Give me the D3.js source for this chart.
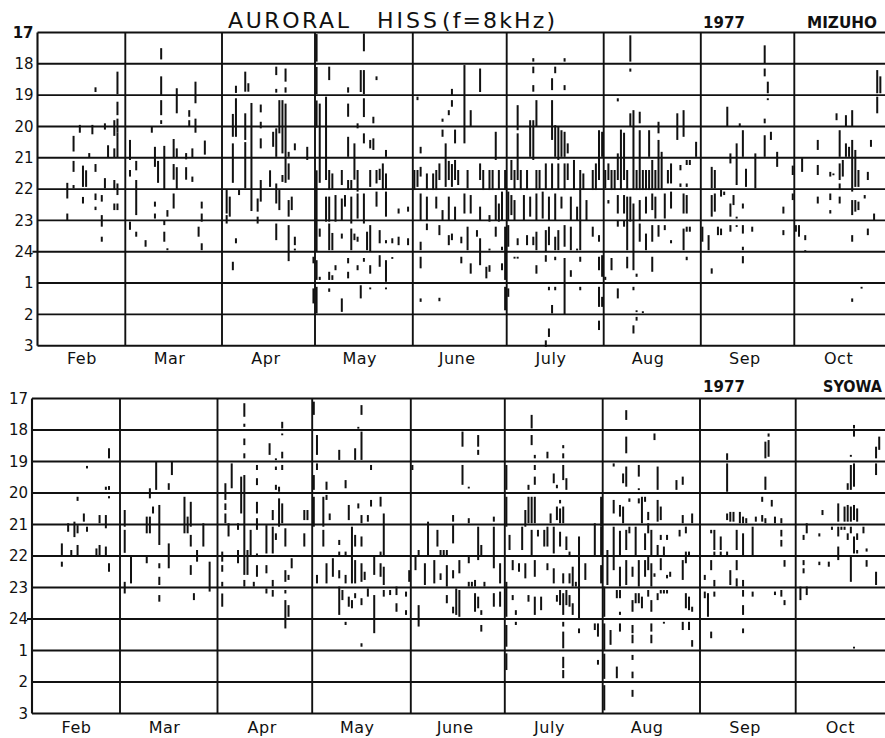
<!DOCTYPE html>
<html>
<head>
<meta charset="utf-8">
<script src="https://cdn.jsdelivr.net/npm/d3@7"></script>
<style>
  html, body { margin: 0; padding: 0; background: #fff; }
  svg { display: block; }
  text { font-family: "DejaVu Sans", "Liberation Sans", sans-serif; fill: #111; }
</style>
</head>
<body>
<svg id="chart" width="885" height="738"></svg>
<script>
// Month labels and hour ticks (hours after midnight continue as 25, 26, 27)
const months = ["Feb", "Mar", "Apr", "May", "June", "July", "Aug", "Sep", "Oct"];
const hourTicks = [17, 18, 19, 20, 21, 22, 23, 24, 25, 26, 27];
const hourLabels = ["17", "18", "19", "20", "21", "22", "23", "24", "1", "2", "3"];

// Hiss occurrence intervals: [day of month, start hour, end hour]
// ---- MIZUHO ----
const mizuhoFeb = [[10,21.8,22.3],[10,22.78,22.99],[12,20.3,20.8],[12,21.1,21.45],[12,21.87,21.98],[14,19.95,20.2],[15,21.25,21.93],[15,22.25,22.46],[16,21.4,21.93],[17,20.85,21.0],[18,19.95,20.25],[19,18.75,18.9],[19,21.2,21.45],[19,22.14,22.35],[19,22.56,22.67],[21,22.19,22.4],[21,22.83,23.2],[21,23.52,23.68],[22,19.9,20.1],[22,21.65,21.98],[23,20.6,21.0],[25,19.8,20.3],[25,20.7,21.0],[25,21.71,22.03],[25,22.46,22.67],[26,18.25,18.97],[26,19.21,19.64],[26,19.75,20.2],[26,20.2,21.0],[26,21.82,22.19],[26,22.46,22.67]];
const mizuhoMar = [[2,20.43,21.07],[2,21.39,21.6],[2,23.04,23.3],[4,21.1,21.4],[4,21.71,22.83],[4,23.36,23.52],[7,23.63,23.84],[9,20.0,20.2],[10,20.65,21.29],[10,22.4,22.56],[10,22.78,22.94],[11,21.1,21.8],[12,17.5,17.86],[12,18.4,19.0],[12,19.16,19.64],[12,19.8,19.92],[13,20.62,22.0],[13,22.99,23.15],[13,23.36,23.68],[14,22.67,22.88],[14,23.89,23.95],[16,20.4,21.0],[16,21.2,21.7],[16,22.14,22.62],[17,18.78,19.58],[17,20.7,21.0],[17,21.3,22.0],[20,20.85,21.05],[20,21.3,21.7],[21,19.48,19.69],[21,19.8,20.0],[22,20.7,21.0],[22,21.6,21.77],[23,18.57,19.26],[23,19.75,20.2],[24,23.2,23.52],[25,22.4,22.62],[25,22.78,23.04],[25,23.73,23.95],[26,20.45,20.9]];
const mizuhoApr = [[2,22.03,22.78],[2,22.83,23.1],[3,22.24,22.88],[4,19.6,20.33],[4,20.54,21.8],[4,24.32,24.59],[5,18.7,18.93],[5,19.1,20.33],[5,23.57,23.73],[6,22.03,22.19],[8,18.25,18.89],[8,19.58,20.43],[8,20.5,21.98],[9,18.62,18.89],[10,19.25,22.7],[12,22.3,22.72],[12,22.88,23.1],[13,19.3,19.55],[13,19.85,20.06],[13,20.38,20.7],[13,21.71,22.4],[16,21.4,21.93],[17,20.17,20.65],[18,18.09,18.36],[18,18.8,18.92],[18,20.06,20.97],[18,21.82,22.46],[18,23.1,23.63],[19,19.16,20.22],[19,22.03,22.67],[20,19.16,20.86],[20,21.55,21.77],[21,18.15,18.57],[21,18.75,18.92],[21,19.27,21.8],[22,20.81,20.97],[22,21.18,21.7],[22,22.35,22.88],[22,23.15,24.3],[23,22.24,22.67],[24,20.54,20.76],[24,23.52,23.79],[24,23.9,23.95],[28,20.65,21.07],[30,24.16,24.37],[30,25.17,25.65]];
const mizuhoMay = [[1,17.05,17.93],[1,18.1,18.97],[1,19.17,20.04],[1,21.4,24.0],[1,24.27,24.9],[1,25.12,25.97],[2,19.27,21.8],[2,23.26,23.52],[2,24.8,24.9],[4,19.05,21.71],[4,22.24,23.04],[5,18.09,18.52],[5,21.39,22.03],[5,22.24,23.04],[5,23.1,23.95],[5,24.64,24.9],[5,25.17,25.28],[6,21.5,22.0],[6,23.4,23.95],[6,24.75,24.9],[7,22.19,23.04],[7,24.43,24.59],[9,21.39,21.87],[9,22.3,22.99],[9,23.42,23.58],[9,25.49,25.92],[10,22.19,22.56],[11,18.75,18.92],[11,19.27,19.69],[11,20.33,20.97],[11,21.71,22.03],[11,24.2,24.37],[11,24.64,24.85],[12,21.71,22.0],[12,22.24,23.1],[12,23.26,23.95],[13,20.54,21.7],[13,23.42,23.63],[14,19.9,20.06],[14,21.39,22.08],[14,22.14,22.94],[14,23.52,23.68],[14,24.43,24.59],[15,18.2,18.9],[15,25.07,25.49],[16,17.03,17.6],[16,18.2,18.97],[16,19.1,19.7],[16,20.22,20.54],[16,22.14,23.1],[16,24.2,24.32],[17,23.36,23.95],[18,20.43,20.7],[18,21.39,21.93],[18,23.15,24.0],[18,24.43,24.7],[18,25.14,25.2],[19,19.69,19.9],[19,20.38,20.75],[20,18.4,18.52],[20,21.39,21.82],[20,22.08,22.56],[21,21.35,21.71],[21,23.31,23.73],[21,24.11,24.48],[22,21.18,22.03],[23,20.75,20.97],[23,21.5,22.0],[23,22.08,22.88],[23,23.63,23.73],[23,24.27,24.96],[23,25.14,25.2],[25,23.57,23.73],[25,24.17,24.22],[27,22.62,22.78],[27,23.52,23.79],[30,22.56,22.72],[30,23.57,23.79]];
const mizuhoJun = [[1,21.39,22.03],[2,19.05,19.16],[2,21.39,21.93],[3,20.65,20.86],[3,21.29,21.6],[3,22.14,22.99],[3,23.68,23.95],[3,24.16,24.53],[3,25.49,25.6],[5,21.5,22.03],[5,22.24,22.99],[5,23.1,23.31],[7,21.5,22.03],[8,21.39,22.03],[8,22.24,22.62],[9,21.18,21.71],[9,23.15,23.47],[9,25.47,25.58],[10,19.75,19.85],[10,20.1,20.33],[10,22.67,22.99],[11,20.54,21.07],[11,21.07,21.93],[12,19.48,19.64],[12,21.1,21.71],[12,22.24,22.99],[12,23.47,23.79],[13,18.8,19.0],[13,19.16,19.37],[13,21.2,21.93],[13,23.42,23.63],[14,20.1,20.54],[14,21.07,21.71],[14,22.56,22.99],[15,21.39,21.87],[16,23.52,23.73],[16,24.16,24.37],[17,18.04,20.54],[17,22.14,22.78],[18,21.39,21.98],[18,23.2,23.95],[19,19.48,20.01],[19,22.19,22.78],[19,24.37,24.7],[21,23.31,23.52],[22,18.15,18.9],[22,21.18,21.71],[22,22.56,22.99],[22,23.57,24.43],[23,21.39,22.03],[24,24.48,24.85],[25,21.39,22.03],[25,22.83,23.04],[25,23.9,23.95],[25,24.43,24.64],[26,21.39,22.03],[27,20.17,21.07],[27,22.19,22.99],[27,23.2,23.52],[28,21.39,22.03],[28,22.46,23.04],[29,22.08,22.99],[29,23.84,23.95],[29,24.37,24.59],[30,21.39,22.03],[30,23.2,24.9],[30,25.12,25.87]];
const mizuhoJul = [[1,22.08,22.99],[1,23.15,23.84],[1,25.17,25.44],[2,21.07,21.71],[2,22.19,22.83],[3,21.39,22.03],[3,22.35,22.99],[3,24.16,24.22],[4,19.32,20.12],[4,20.22,21.71],[4,23.57,23.79],[4,24.16,24.22],[5,21.39,22.03],[6,22.19,22.99],[7,21.39,22.03],[7,23.47,23.79],[8,19.8,20.97],[8,22.24,22.88],[9,17.82,17.93],[9,18.09,18.3],[9,18.68,18.89],[9,19.8,21.07],[9,23.52,23.79],[10,19.16,20.01],[10,21.39,22.03],[10,22.14,22.99],[10,23.36,23.95],[10,24.43,24.7],[11,21.39,22.03],[12,22.08,22.94],[13,21.18,22.03],[13,23.31,24.0],[13,24.11,24.32],[13,26.83,27.04],[14,22.24,22.99],[14,23.2,23.79],[14,25.12,25.23],[14,26.45,26.72],[15,18.46,18.84],[15,19.16,20.43],[15,21.18,22.03],[15,25.7,25.97],[16,18.09,18.3],[16,19.96,20.97],[16,22.14,22.99],[16,23.52,23.95],[16,24.16,24.27],[16,25.12,25.23],[17,20.01,21.07],[17,21.18,22.03],[17,23.31,23.95],[18,20.12,20.97],[18,22.24,22.62],[19,17.82,17.93],[19,18.68,18.84],[19,20.17,20.97],[19,21.18,22.03],[19,23.15,23.84],[19,24.2,26.0],[20,20.54,20.86],[20,21.18,21.71],[21,22.24,22.99],[21,23.2,23.95],[21,24.59,24.8],[22,21.07,22.03],[23,22.56,22.99],[23,23.9,23.95],[24,21.39,23.95],[24,24.16,24.32],[24,25.12,25.23],[25,21.5,22.03],[26,22.35,22.99],[28,21.39,22.03],[28,23.2,23.52],[29,21.18,22.03],[30,20.12,21.71],[30,23.47,23.68],[30,24.16,24.59],[30,25.12,25.76],[30,26.2,26.5],[31,20.17,20.97],[31,24.11,24.8],[31,25.44,25.76]];
const mizuhoAug = [[1,21.39,21.98],[1,24.8,24.9],[2,21.18,21.71],[2,22.35,22.46],[3,21.39,22.03],[3,24.2,24.59],[4,21.39,22.03],[5,19.1,19.2],[5,20.86,21.71],[5,22.19,22.78],[5,22.99,23.2],[5,25.17,25.49],[6,20.1,22.03],[7,20.2,21.71],[7,22.19,22.78],[7,22.99,23.2],[8,21.39,22.03],[8,22.24,23.95],[8,24.16,24.53],[9,17.09,17.93],[9,18.15,18.25],[9,19.58,20.0],[9,22.24,23.04],[10,19.48,22.03],[10,22.46,24.59],[10,25.12,25.23],[10,26.35,26.61],[11,21.39,22.03],[11,24.7,24.8],[11,25.87,25.92],[11,26.08,26.2],[12,19.53,19.9],[12,20.12,22.03],[12,22.35,22.99],[12,23.1,23.68],[13,21.39,22.03],[13,25.9,25.95],[14,21.39,22.03],[14,22.24,22.78],[14,23.42,23.95],[15,20.12,20.97],[15,21.39,22.03],[16,21.07,22.03],[16,22.14,22.67],[16,23.15,23.68],[16,24.16,24.64],[17,21.39,22.03],[17,22.24,22.94],[18,19.85,20.22],[18,20.43,22.03],[18,23.15,23.52],[19,20.81,22.03],[20,22.14,22.94],[20,23.15,23.31],[21,21.39,21.82],[22,21.18,21.82],[22,22.08,22.62],[22,23.63,23.73],[24,19.58,20.43],[25,21.23,21.4],[25,21.82,21.93],[26,19.48,20.33],[26,22.14,22.78],[26,23.26,23.95],[27,21.07,21.23],[27,21.82,21.93],[27,22.19,22.78],[27,23.2,23.36],[27,24.16,24.27],[28,21.07,21.23],[28,23.2,23.36],[30,20.49,20.97]];
const mizuhoSep = [[1,23.2,23.68],[3,23.47,23.95],[4,21.29,21.98],[4,22.19,22.88],[4,24.53,24.7],[5,21.39,21.98],[5,22.14,22.72],[6,23.2,23.47],[7,22.03,22.24],[7,23.26,23.47],[8,22.08,22.19],[9,19.37,20.01],[10,20.86,21.18],[10,22.46,22.88],[10,23.15,23.36],[11,22.19,22.51],[12,20.54,21.87],[12,22.88,22.94],[12,23.15,23.2],[13,19.9,20.01],[14,20.12,20.97],[14,22.46,22.62],[14,23.15,23.42],[14,23.84,23.95],[14,24.14,24.37],[15,21.35,21.93],[17,23.2,23.36],[18,20.86,21.98],[21,17.41,17.99],[21,18.15,18.4],[21,19.75,19.9],[21,20.28,20.97],[22,18.57,18.94],[22,19.1,19.16],[23,20.17,20.43],[25,20.81,21.29],[27,22.56,22.78],[27,23.31,23.47],[30,21.25,21.55],[30,22.14,22.35]];
const mizuhoOct = [[1,23.15,23.36],[2,23.15,23.52],[3,21.01,21.45],[4,23.47,23.63],[4,23.95,24.0],[8,20.43,20.75],[8,21.23,21.55],[8,22.24,22.46],[12,21.45,21.6],[12,22.14,22.35],[12,22.67,22.78],[13,21.5,21.55],[14,19.58,19.8],[15,20.12,20.97],[15,21.18,21.71],[15,21.82,22.03],[15,22.24,22.46],[16,21.07,21.6],[17,19.64,20.01],[17,20.54,20.97],[18,20.65,20.97],[19,19.48,20.01],[19,20.43,22.08],[19,22.35,22.83],[19,23.47,23.68],[19,25.49,25.6],[20,20.75,21.93],[20,22.35,22.72],[21,21.39,21.93],[21,22.4,22.67],[22,25.12,25.17],[23,22.19,22.3],[24,21.45,21.71],[24,23.26,23.47],[25,20.43,20.65],[26,22.78,22.99],[27,18.2,18.94],[27,19.05,19.58],[28,18.4,18.94]];

// ---- SYOWA ----
const syowaFeb = [[10,21.6,22.02],[10,22.18,22.34],[12,20.96,21.23],[13,21.81,21.97],[14,20.91,21.4],[15,20.12,20.25],[15,21.02,21.28],[15,21.65,22.02],[17,20.65,20.91],[18,19.14,19.22],[18,21.07,21.23],[21,21.76,22.02],[22,20.7,20.96],[22,21.65,21.97],[24,19.8,19.9],[24,20.7,21.12],[24,21.7,22.02],[25,18.58,18.9],[25,19.78,19.9],[25,20.1,20.17],[25,22.23,22.5]];
const syowaMar = [[2,20.54,21.07],[2,21.17,21.9],[2,22.82,23.19],[4,22.02,22.87],[9,20.75,21.28],[9,21.97,22.23],[10,19.85,20.17],[10,20.75,21.28],[11,20.43,20.65],[12,19.0,19.9],[13,20.38,21.65],[13,22.23,22.39],[13,22.66,22.92],[13,23.24,23.45],[16,19.69,19.9],[16,21.6,22.39],[17,19.0,19.43],[21,20.12,21.28],[22,20.75,21.28],[23,20.28,21.07],[23,21.33,21.7],[23,22.29,22.6],[24,23.18,23.4],[25,21.81,22.18],[27,20.96,21.7],[29,22.18,23.13]];
const syowaApr = [[2,21.86,22.18],[2,22.29,22.5],[2,22.82,22.97],[2,23.19,23.61],[3,19.69,20.22],[3,20.33,20.54],[3,20.65,20.96],[4,20.96,21.38],[5,19.06,19.85],[7,20.96,21.17],[7,21.81,22.23],[8,19.48,20.65],[9,17.15,17.58],[9,17.8,17.9],[9,18.27,18.48],[9,18.74,18.9],[9,19.43,22.6],[9,22.76,22.97],[10,21.81,22.6],[11,21.17,22.02],[12,22.82,22.97],[13,19.11,19.27],[13,19.53,19.75],[13,20.28,20.65],[13,20.8,21.17],[13,21.92,22.02],[13,22.29,22.66],[16,21.02,21.92],[16,22.29,22.55],[16,23.03,23.19],[17,18.42,18.79],[18,20.54,20.86],[18,21.07,21.92],[18,22.76,22.97],[18,23.08,23.29],[19,18.9,18.95],[19,19.16,19.27],[19,19.74,19.9],[19,21.28,21.49],[20,19.8,19.96],[20,20.17,21.07],[21,17.74,17.95],[21,18.11,18.16],[21,18.69,18.9],[21,19.11,19.27],[21,20.33,20.96],[22,21.12,21.7],[22,22.45,22.82],[22,23.08,23.19],[22,23.4,24.3],[23,22.6,22.76],[23,23.56,23.93],[24,22.07,22.39],[28,20.54,20.86],[28,21.28,21.7],[29,20.54,20.86]];
const syowaMay = [[1,17.1,17.52],[1,19.43,19.9],[1,20.12,21.07],[2,18.16,18.79],[2,19.06,19.27],[2,22.6,22.87],[4,20.12,21.07],[4,21.17,21.7],[5,19.64,19.9],[5,20.06,20.22],[5,22.23,22.87],[6,20.65,20.86],[7,22.07,22.66],[9,18.63,18.95],[9,21.49,21.65],[9,21.86,22.02],[9,22.45,22.71],[9,22.97,23.87],[10,23.08,23.4],[11,19.59,19.85],[11,21.86,22.02],[11,22.6,22.87],[11,24.09,24.19],[12,20.38,20.86],[12,23.29,23.61],[13,21.07,22.87],[13,23.4,23.66],[14,18.58,18.95],[14,21.33,21.7],[14,22.13,22.87],[14,23.18,23.34],[15,17.9,17.95],[15,20.33,20.49],[16,17.21,17.52],[16,18.05,18.95],[16,20.7,20.96],[16,21.38,21.7],[16,22.23,22.82],[16,23.34,23.56],[16,24.77,24.88],[17,22.5,22.76],[18,20.7,20.91],[18,23.03,23.29],[19,19.11,19.27],[19,20.22,20.43],[20,22.02,22.6],[20,23.24,24.45],[22,20.12,20.43],[22,21.86,22.02],[22,22.23,22.66],[23,20.65,22.02],[23,22.34,22.92],[23,23.08,23.29],[25,23.08,23.24],[27,22.97,23.24],[27,23.5,23.77],[30,23.13,23.29],[30,23.72,23.87],[31,22.45,22.82]];
const syowaJun = [[1,19.11,19.27],[2,22.02,22.45],[3,21.81,22.02],[3,23.56,24.24],[5,22.23,22.92],[6,20.91,22.02],[8,22.13,22.87],[9,21.17,21.7],[10,21.81,22.02],[10,22.55,22.76],[11,21.81,22.02],[12,21.81,22.02],[12,22.29,22.97],[12,23.24,23.5],[14,20.7,20.91],[14,21.02,21.6],[14,22.45,22.71],[14,23.61,23.82],[15,23.03,23.87],[16,22.13,22.55],[16,23.08,23.93],[17,18.05,18.53],[17,19.11,19.74],[19,19.8,19.85],[19,20.8,20.96],[19,21.97,22.23],[19,22.82,22.97],[20,22.82,22.97],[21,22.76,22.97],[21,23.18,23.77],[22,18.16,18.53],[22,18.63,18.79],[22,21.07,22.13],[22,23.29,23.66],[23,21.65,22.02],[23,23.72,23.87],[23,24.19,24.4],[24,22.82,22.97],[27,20.75,20.91],[27,21.07,22.39],[27,23.18,23.61],[29,22.23,22.87],[29,23.13,23.61]];
const syowaJul = [[1,19.11,19.9],[1,20.12,21.07],[1,22.82,23.93],[1,24.19,24.88],[1,25.09,25.62],[2,21.33,21.81],[3,22.13,22.45],[3,23.24,23.4],[4,23.72,23.87],[4,24.09,24.19],[5,22.23,22.5],[6,21.07,21.81],[7,20.54,21.07],[7,22.23,22.71],[8,19.74,19.9],[8,20.12,20.96],[8,23.24,23.45],[9,17.52,17.95],[9,18.16,18.48],[9,20.12,20.96],[9,21.17,22.02],[10,18.79,18.9],[10,19.11,19.27],[10,19.48,19.74],[10,20.12,20.96],[10,22.13,22.66],[10,23.29,23.87],[11,21.17,21.38],[12,23.29,23.72],[13,21.17,21.7],[14,18.69,18.9],[14,21.07,21.7],[14,22.23,22.45],[15,20.65,20.96],[16,19.38,19.69],[16,21.07,21.92],[16,22.39,22.87],[17,19.74,19.85],[17,20.43,20.86],[17,23.24,23.45],[18,20.22,20.33],[18,20.49,20.96],[18,21.23,21.7],[18,23.08,23.56],[19,18.48,18.58],[19,18.74,18.9],[19,19.11,19.59],[19,20.43,20.96],[19,22.55,22.87],[19,23.18,23.87],[19,24.09,24.24],[19,24.4,24.93],[19,25.2,25.56],[19,25.62,25.88],[20,19.53,19.9],[20,21.38,21.81],[20,23.08,23.56],[21,21.86,22.02],[21,22.55,22.87],[21,23.24,23.61],[22,22.34,22.97],[22,23.5,23.87],[23,22.82,22.97],[24,21.38,24.03],[24,24.3,24.45],[26,22.23,22.76],[29,20.96,22.02],[29,24.14,24.35],[30,24.14,24.56],[30,25.3,25.45],[31,20.12,21.07],[31,21.07,22.02],[31,22.29,22.87]];
const syowaAug = [[1,22.97,23.93],[1,24.14,24.98],[1,25.1,25.9],[1,26.1,26.9],[2,21.81,22.92],[3,24.35,24.82],[4,19.06,19.16],[4,20.22,20.65],[4,21.07,22.45],[5,23.08,23.34],[5,25.51,25.88],[6,20.38,20.75],[6,21.2,22.02],[6,22.34,22.97],[6,23.08,23.34],[6,23.77,23.87],[6,24.14,24.4],[7,19.38,19.69],[7,20.43,20.96],[8,17.37,17.68],[8,18.21,18.74],[8,19.16,19.8],[8,21.17,21.81],[8,22.13,22.92],[9,20.17,20.28],[9,21.07,21.28],[10,22.34,22.66],[10,23.4,23.77],[10,24.19,24.45],[10,24.5,24.77],[10,25.14,25.3],[10,25.67,25.88],[10,26.25,26.47],[11,21.07,22.02],[11,23.18,23.5],[12,19.11,19.48],[12,19.85,19.9],[12,20.17,20.33],[12,22.13,22.97],[12,23.18,23.5],[13,20.12,20.96],[13,23.29,23.66],[14,20.12,20.28],[14,21.28,21.81],[14,22.13,22.66],[15,20.6,20.86],[15,20.96,21.28],[15,22.02,22.45],[15,23.08,23.29],[16,21.17,22.02],[16,22.23,22.97],[16,23.4,23.77],[16,24.14,24.4],[16,24.5,24.77],[17,18.11,18.32],[17,22.55,22.66],[18,19.16,19.9],[18,20.22,20.91],[18,21.65,22.02],[18,23.18,23.4],[19,20.43,20.86],[19,21.33,21.49],[19,22.07,22.45],[19,23.08,23.19],[20,21.7,22.02],[20,23.08,23.19],[20,24.09,24.14],[21,21.33,21.49],[21,22.6,22.71],[21,23.08,23.19],[22,22.5,22.66],[24,19.59,19.9],[25,21.17,21.38],[26,19.48,19.74],[26,20.7,20.96],[26,22.13,22.76],[26,24.09,24.35],[27,21.07,21.28],[27,21.86,22.23],[27,23.18,23.66],[28,21.86,22.02],[28,23.29,23.72],[28,24.09,24.35],[29,20.65,20.96],[29,23.61,23.77],[29,24.67,24.88]];
const syowaSep = [[2,22.6,22.76],[2,23.13,23.34],[3,23.18,23.93],[4,21.17,21.28],[4,22.13,22.45],[4,24.4,24.61],[5,21.17,21.81],[5,21.86,22.02],[5,22.76,22.97],[5,23.13,23.29],[7,21.38,21.81],[7,21.86,22.02],[9,18.74,18.95],[9,19.06,19.96],[9,20.65,20.86],[9,21.86,22.02],[10,20.6,20.91],[10,22.45,22.92],[11,20.6,20.91],[12,21.17,21.81],[12,22.13,22.45],[12,22.71,22.97],[13,20.6,20.96],[14,20.75,20.96],[14,21.28,22.02],[14,22.76,22.97],[14,23.08,23.29],[14,23.56,23.87],[14,24.3,24.45],[15,20.8,20.96],[17,21.07,22.02],[17,23.13,23.29],[18,20.75,20.91],[20,20.12,20.28],[20,20.7,20.91],[21,18.37,18.9],[21,19.48,19.9],[21,20.8,20.96],[22,18.11,18.21],[22,18.32,18.85],[23,20.22,20.43],[24,20.75,20.96],[24,23.13,23.24],[26,20.8,20.96],[26,21.17,21.38],[26,21.49,21.7],[26,23.08,23.29],[27,22.13,22.34],[27,23.4,23.56]];
const syowaOct = [[2,22.97,23.4],[3,21.33,21.49],[3,22.13,22.29],[3,22.39,22.55],[4,20.96,21.28],[4,22.97,23.24],[8,21.28,21.38],[8,22.18,22.29],[9,20.54,20.7],[11,22.18,22.34],[12,21.07,21.17],[14,20.33,20.91],[14,21.07,21.38],[14,21.7,22.13],[15,21.07,21.17],[16,20.43,20.91],[16,21.07,21.17],[17,19.69,19.9],[17,20.38,20.91],[17,21.28,21.49],[18,18.79,18.85],[18,19.11,19.9],[18,20.43,20.91],[18,21.07,21.28],[18,22.02,22.82],[19,17.84,17.95],[19,18.0,18.21],[19,19.06,19.8],[19,20.38,20.86],[19,21.38,21.92],[19,24.88,24.93],[20,20.49,20.91],[20,21.28,21.49],[20,21.81,21.92],[22,21.07,21.28],[23,21.76,21.86],[23,22.13,22.34],[26,18.53,18.9],[26,19.06,19.43],[26,22.5,22.92],[27,18.21,18.63]];

// ---------------------------------------------------------------
const W = 885, H = 738;
const svg = d3.select("#chart");
const ink = "#111";

// month boundaries Feb 1 ... Nov 1
const monthStarts = d3.range(1, 11).map(m => new Date(1977, m, 1));

const panels = [
  {
    station: "MIZUHO",
    months: [mizuhoFeb, mizuhoMar, mizuhoApr, mizuhoMay, mizuhoJun, mizuhoJul, mizuhoAug, mizuhoSep, mizuhoOct],
    edges: [37.5, 125.3, 222, 315, 412.8, 506.7, 603.7, 700.8, 794.3, 891.3],
    top: 32.5, bottom: 345.7, monthLabelY: 365, headY: 28, boldFirst: true
  },
  {
    station: "SYOWA",
    months: [syowaFeb, syowaMar, syowaApr, syowaMay, syowaJun, syowaJul, syowaAug, syowaSep, syowaOct],
    edges: [32, 120, 217.5, 312.2, 410.8, 504.8, 602.7, 700, 795.7, 893.4],
    top: 398.5, bottom: 713.5, monthLabelY: 734, headY: 392, boldFirst: false
  }
];

panels.forEach(p => {
  const x = d3.scaleTime().domain(monthStarts).range(p.edges);
  const y = d3.scaleLinear().domain([17, 27]).range([p.top, p.bottom]);
  const g = svg.append("g").attr("class", "panel");
  const x0 = x(monthStarts[0]);

  // hour grid lines
  g.append("g").selectAll("line").data(hourTicks).join("line")
    .attr("x1", d => d === 24 ? x0 - 5 : x0)
    .attr("x2", W)
    .attr("y1", d => y(d)).attr("y2", d => y(d))
    .attr("stroke", ink).attr("stroke-width", 1.9);

  // left axis line and month dividers
  g.append("g").selectAll("line").data(monthStarts.slice(0, 9)).join("line")
    .attr("x1", d => x(d)).attr("x2", d => x(d))
    .attr("y1", y(17)).attr("y2", y(27))
    .attr("stroke", ink).attr("stroke-width", (d, i) => i === 0 ? 2.1 : 1.9);

  // occurrence bars
  const bars = [];
  p.months.forEach((list, mi) => {
    list.forEach(([day, h0, h1]) => bars.push({ date: new Date(1977, mi + 1, day, 12), h0, h1 }));
  });
  g.append("g").selectAll("rect").data(bars).join("rect")
    .attr("x", d => x(d.date) - 1)
    .attr("width", 2)
    .attr("y", d => y(d.h0))
    .attr("height", d => Math.max(1.8, y(d.h1) - y(d.h0)))
    .attr("fill", ink);

  // hour labels
  const yAxis = d3.axisLeft(y).tickValues(hourTicks)
    .tickFormat((d, i) => hourLabels[i]).tickSize(0).tickPadding(4);
  const ya = svg.append("g").attr("transform", `translate(${x0},0)`).call(yAxis);
  ya.select(".domain").remove();
  ya.selectAll("text")
    .attr("font-family", '"DejaVu Sans", sans-serif')
    .attr("font-size", 15).attr("fill", ink)
    .attr("font-weight", (d, i) => (p.boldFirst && i === 0) ? "bold" : "normal");

  // month labels
  const xAxis = d3.axisBottom(x)
    .tickValues(d3.range(1, 10).map(m => new Date(1977, m, 15)))
    .tickFormat((d, i) => months[i]).tickSize(0).tickPadding(0);
  const xa = svg.append("g").attr("transform", `translate(0,${p.monthLabelY - 12})`).call(xAxis);
  xa.select(".domain").remove();
  xa.selectAll("text")
    .attr("font-family", '"DejaVu Sans", sans-serif')
    .attr("font-size", 16).attr("fill", ink).attr("letter-spacing", 0.5);

  // year and station
  svg.append("text").attr("x", 703).attr("y", p.headY)
    .attr("font-size", 15).attr("font-weight", "bold")
    .attr("textLength", 42).attr("lengthAdjust", "spacing").text("1977");
  const st = p.station === "MIZUHO" ? { x: 807, w: 70 } : { x: 823, w: 59 };
  svg.append("text").attr("x", st.x).attr("y", p.headY)
    .attr("font-size", 15).attr("font-weight", "bold")
    .attr("textLength", st.w).attr("lengthAdjust", "spacingAndGlyphs").text(p.station);
});

// title
const title = [
  { t: "AURORAL", x: 228, w: 121 },
  { t: "HISS", x: 377, w: 60 },
  { t: "(f=8kHz)", x: 442, w: 113 }
];
svg.append("g").selectAll("text").data(title).join("text")
  .attr("x", d => d.x).attr("y", 28)
  .attr("font-size", 22)
  .attr("textLength", d => d.w).attr("lengthAdjust", "spacing")
  .text(d => d.t);
</script>
</body>
</html>
